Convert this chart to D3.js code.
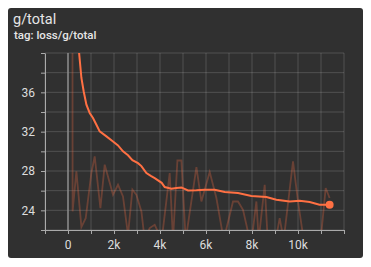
<html>
<head>
<script src="https://cdnjs.cloudflare.com/ajax/libs/d3/7.8.5/d3.min.js"></script>
<style>
    * { margin: 0px; padding: 0px; }
    body { background: #ffffff; font-family: Roboto, sans-serif; }
</style>
</head>
<body>
<svg id="viz"></svg>
<script>
    // smoothed series
    var smoothSteps = [150, 365, 583, 683, 800, 943, 1087, 1235, 1378, 1670, 1957, 2174, 2391, 2609, 2800, 3043, 3191, 3409, 3600, 3770, 4074, 4204, 4496, 4713, 4930, 5217, 5583, 5943, 6378, 6813, 7391, 7974, 8626, 9060, 9639, 10074, 10509, 10935, 11374];
    var smoothValues = [60, 43, 37.46, 36.09, 34.74, 33.9, 33.39, 32.71, 32.03, 31.52, 31.0, 30.6, 30.0, 29.6, 29.1, 28.8, 28.5, 27.8, 27.5, 27.28, 26.8, 26.37, 26.2, 26.27, 26.33, 26.02, 26.05, 26.1, 26.1, 25.86, 25.76, 25.45, 25.35, 25.08, 24.9, 24.97, 24.84, 24.57, 24.57];

    // raw series
    var rawSteps = [150, 200, 365, 583, 770, 1017, 1161, 1409, 1596, 1957, 2174, 2391, 2609, 2800, 2974, 3191, 3335, 3552, 3770, 4074, 4422, 4565, 4757, 4930, 5117, 5583, 5800, 6161, 6452, 6770, 7174, 7391, 7609, 7826, 7987, 8191, 8291, 8552, 8683, 9030, 9204, 9378, 9783, 10000, 10248, 10596, 10987, 11204, 11374];
    var rawValues = [200, 23.9, 27.96, 22.3, 23.2, 27.8, 29.48, 24.23, 28.64, 25.58, 26.6, 25.41, 21.5, 26.1, 25.58, 23.89, 21, 22.2, 22.53, 21, 27.79, 21, 29.07, 29.07, 21, 28.4, 24.9, 27.9, 25.25, 21, 24.9, 24.9, 24.06, 21.8, 21, 24.9, 21, 26.6, 21, 21, 23.2, 21, 28.97, 24.9, 21, 21, 21, 26.27, 25.25];

    var xTickValues = [0, 2000, 4000, 6000, 8000, 10000];
    var xTickLabels = ["0", "2k", "4k", "6k", "8k", "10k"];
    var yTickValues = [24, 28, 32, 36];

    var W = 371, H = 267;
    var pLeft = 45, pRight = 344, pTop = 53, pBottom = 230;

    var svg = d3.select("#viz").attr("width", W).attr("height", H);

    // card
    svg.append("rect")
        .attr("x", 8).attr("y", 8)
        .attr("width", 355).attr("height", 250)
        .attr("rx", 3)
        .style("fill", "#303030");

    svg.append("text")
        .attr("x", 13).attr("y", 24)
        .style("fill", "#e6e6e6")
        .style("font-size", "14.5px")
        .text("g/total");
    svg.append("text")
        .attr("x", 14).attr("y", 39)
        .style("fill", "#e6e6e6")
        .style("font-size", "11.5px")
        .style("font-weight", "500")
        .text("tag: loss/g/total");

    var x = d3.scaleLinear().domain([-1000, 12000]).range([pLeft, pRight]);
    var y = d3.scaleLinear().domain([22, 40]).range([pBottom, pTop]);

    // grid
    var grid = svg.append("g");
    d3.range(-1000, 12001, 1000).forEach(function(s) {
        grid.append("line")
            .attr("x1", x(s)).attr("x2", x(s))
            .attr("y1", pTop).attr("y2", pBottom)
            .style("stroke", "rgba(255,255,255,0.16)");
    });
    d3.range(22, 41, 2).forEach(function(v) {
        grid.append("line")
            .attr("x1", pLeft).attr("x2", pRight)
            .attr("y1", y(v)).attr("y2", y(v))
            .style("stroke", "rgba(255,255,255,0.16)");
    });

    // zero line
    svg.append("line")
        .attr("x1", x(0)).attr("x2", x(0))
        .attr("y1", pTop).attr("y2", pBottom)
        .style("stroke", "#8a8a8a")
        .style("stroke-width", 1.5);

    // axes
    var xAxis = svg.append("g")
        .attr("transform", "translate(0," + pBottom + ")")
        .call(d3.axisBottom(x).tickValues(d3.range(-1000, 12001, 1000)).tickSize(4).tickSizeOuter(0).tickFormat(""));
    xAxis.selectAll("path, line").style("stroke", "#aaaaaa");

    xTickValues.forEach(function(v, i) {
        svg.append("text")
            .attr("x", x(v)).attr("y", 248.5)
            .attr("text-anchor", "middle")
            .style("fill", "#dddddd")
            .style("font-size", "12px")
            .text(xTickLabels[i]);
    });

    var yAxis = svg.append("g")
        .attr("transform", "translate(" + pLeft + ",0)")
        .call(d3.axisLeft(y).tickValues(d3.range(22, 41, 2)).tickSize(4).tickSizeOuter(0).tickFormat(""));
    yAxis.selectAll("path, line").style("stroke", "#aaaaaa");

    yTickValues.forEach(function(v) {
        svg.append("text")
            .attr("x", 35).attr("y", y(v))
            .attr("dy", "0.35em")
            .attr("text-anchor", "end")
            .style("fill", "#dddddd")
            .style("font-size", "12px")
            .text(v);
    });

    // clip
    svg.append("clipPath").attr("id", "clip")
        .append("rect")
        .attr("x", pLeft).attr("y", pTop)
        .attr("width", pRight - pLeft).attr("height", pBottom - pTop);

    var line = d3.line()
        .x(function(d) { return x(d[0]); })
        .y(function(d) { return y(d[1]); });

    var raw = rawSteps.map(function(s, i) { return [s, rawValues[i]]; });
    var smooth = smoothSteps.map(function(s, i) { return [s, smoothValues[i]]; });

    svg.append("path")
        .attr("clip-path", "url(#clip)")
        .attr("d", line(raw))
        .style("fill", "none")
        .style("stroke", "#ff7043")
        .style("stroke-opacity", 0.28)
        .style("stroke-width", 1.8);

    svg.append("path")
        .attr("clip-path", "url(#clip)")
        .attr("d", line(smooth))
        .style("fill", "none")
        .style("stroke", "#ff7043")
        .style("stroke-width", 2);

    var last = smooth[smooth.length - 1];
    svg.append("circle")
        .attr("cx", x(last[0])).attr("cy", y(last[1]))
        .attr("r", 4)
        .style("fill", "#ff7043");
</script>
</body>
</html>
